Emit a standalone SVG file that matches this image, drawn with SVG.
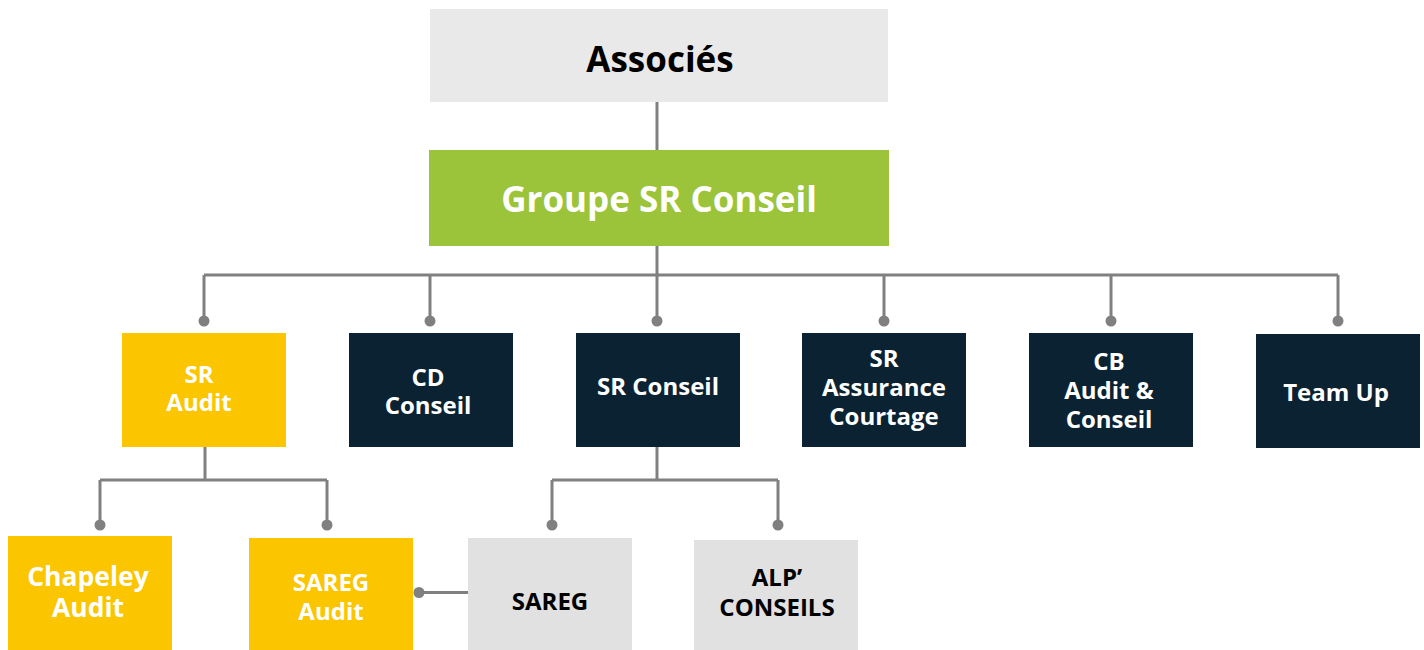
<svg xmlns="http://www.w3.org/2000/svg" width="1424" height="650" viewBox="0 0 1424 650">
<style>
text{font-family:"Open Sans","Noto Sans","Liberation Sans",sans-serif;font-weight:700;text-anchor:middle}
.w{fill:#ffffff}
.k{fill:#000000}
.navy{fill:#0b2233}
.yel{fill:#fbc500}
.gry{fill:#e1e1e1}
.ln{stroke:#808080;stroke-width:3;fill:none}
.dot{fill:#808080}
.t22{font-size:24px}
</style>
<rect width="1424" height="650" fill="#ffffff"/>
<g id="connectors">
<path class="ln" d="M657 102V150M657 246V275M204 275H1338M204 275V321M430 275V321M657 275V321M884 275V321M1111 275V321M1338 275V321"/>
<path class="ln" d="M205 447V480M100 480H327M100 480V525M327 480V525"/>
<path class="ln" d="M657 447V480M552 480H778M552 480V525M778 480V525"/>
<path class="ln" d="M468 592.5H419"/>
<g class="dot">
<circle cx="204" cy="321" r="5.5"/><circle cx="430" cy="321" r="5.5"/><circle cx="657" cy="321" r="5.5"/>
<circle cx="884" cy="321" r="5.5"/><circle cx="1111" cy="321" r="5.5"/><circle cx="1338" cy="321" r="5.5"/>
<circle cx="100" cy="525" r="5.5"/><circle cx="327" cy="525" r="5.5"/>
<circle cx="552" cy="525" r="5.5"/><circle cx="778" cy="525" r="5.5"/>
<circle cx="419" cy="592.5" r="5.5"/>
</g>
</g>
<g id="associes"><rect x="430" y="9" width="458" height="93" fill="#e9e9e9"/><text x="660" y="72" class="k" font-size="35">Associés</text></g>
<g id="groupe"><rect x="429" y="150" width="460" height="96" fill="#9bc43b"/><text x="659" y="212" class="w" font-size="35">Groupe SR Conseil</text></g>
<g id="sr-audit"><rect class="yel" x="122" y="333" width="164" height="114"/><text class="w t22" x="199" y="383">SR</text><text class="w t22" x="199" y="411">Audit</text></g>
<g id="cd-conseil"><rect class="navy" x="349" y="333" width="164" height="114"/><text class="w t22" x="428" y="386">CD</text><text class="w t22" x="428" y="414">Conseil</text></g>
<g id="sr-conseil"><rect class="navy" x="576" y="333" width="164" height="114"/><text class="w t22" x="658" y="395">SR Conseil</text></g>
<g id="sr-assurance"><rect class="navy" x="802" y="333" width="164" height="114"/><text class="w t22" x="884" y="367">SR</text><text class="w t22" x="884" y="396">Assurance</text><text class="w t22" x="884" y="425">Courtage</text></g>
<g id="cb-audit"><rect class="navy" x="1029" y="333" width="164" height="114"/><text class="w t22" x="1109" y="370">CB</text><text class="w t22" x="1109" y="399">Audit &amp;</text><text class="w t22" x="1109" y="428">Conseil</text></g>
<g id="team-up"><rect class="navy" x="1256" y="334" width="164" height="114"/><text class="w t22" x="1336" y="401">Team Up</text></g>
<g id="chapeley"><rect class="yel" x="8" y="536" width="164" height="114"/><text class="w" font-size="26.5" x="88" y="586">Chapeley</text><text class="w" font-size="26.5" x="88" y="617">Audit</text></g>
<g id="sareg-audit"><rect class="yel" x="249" y="538" width="164" height="112"/><text class="w" font-size="24" x="331" y="591">SAREG</text><text class="w" font-size="24" x="331" y="620">Audit</text></g>
<g id="sareg"><rect class="gry" x="468" y="538" width="164" height="112"/><text class="k t22" x="550" y="610">SAREG</text></g>
<g id="alp"><rect class="gry" x="694" y="540" width="164" height="110"/><text class="k t22" x="777" y="586">ALP’</text><text class="k t22" x="777" y="616">CONSEILS</text></g>
</svg>
